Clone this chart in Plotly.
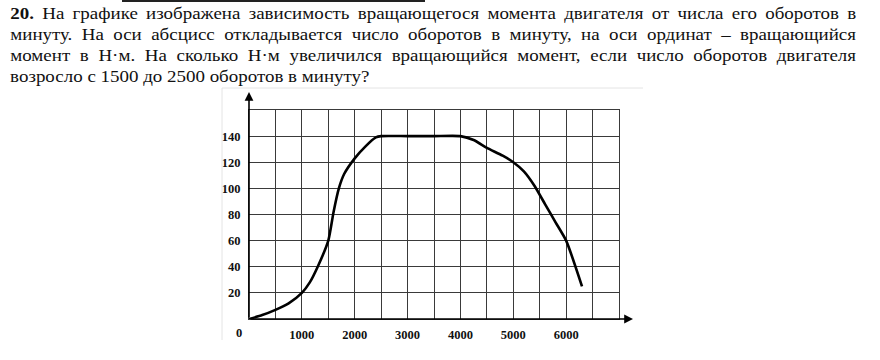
import plotly.graph_objects as go

# ---- data ----
rpm = [0, 250, 500, 750, 1000, 1150, 1300, 1500, 1600, 1700, 1800, 2000, 2200,
       2400, 2500, 3000, 3500, 4000, 4250, 4500, 4800, 5000, 5200, 5400, 5600,
       5800, 6000, 6300]
torque = [0, 3, 7, 12, 20, 28, 40, 60, 82, 100, 111, 123, 132,
          139, 140, 140, 140, 140, 137, 131, 125, 120, 113, 102, 88,
          74, 60, 25]

x_ticks = list(range(0, 7001, 500))
x_ticktext = [str(v) if (v % 1000 == 0 and 0 < v < 7000) else "" for v in x_ticks]
y_ticks = list(range(0, 161, 20))
y_ticktext = [str(v) if 0 < v < 160 else "" for v in y_ticks]

title_lines = [
    "<b>20.</b> На графике изображена зависимость вращающегося момента двигателя от числа его оборотов в",
    "минуту. На оси абсцисс откладывается число оборотов в минуту, на оси ординат – вращающийся",
    "момент в Н·м. На сколько Н·м увеличился вращающийся момент, если число оборотов двигателя",
    "возросло с 1500 до 2500 оборотов в минуту?",
]

# ---- layout geometry (pixels) ----
W, H = 880, 360
L, R, T, B = 249, 261, 110, 41
PW, PH = W - L - R, H - T - B


def px(xp, yp):
    return (xp - L) / PW, (H - B - yp) / PH


fig = go.Figure()
fig.add_trace(go.Scatter(
    x=rpm, y=torque, mode="lines",
    line=dict(color="black", width=2.6, shape="spline", smoothing=0.6),
    hoverinfo="skip", showlegend=False, cliponaxis=False,
))

tick_font = dict(family="Liberation Serif", size=12.5, color="#111", weight="bold")

fig.update_xaxes(
    range=[0, 7000], tickvals=x_ticks, ticktext=x_ticktext,
    showgrid=True, gridcolor="#3a3a3a", gridwidth=1, zeroline=False,
    showline=True, mirror=True, linecolor="#3a3a3a", linewidth=1,
    ticks="", tickfont=tick_font, ticklabelstandoff=4,
    fixedrange=True,
)
fig.update_yaxes(
    range=[0, 160], tickvals=y_ticks, ticktext=y_ticktext,
    showgrid=True, gridcolor="#3a3a3a", gridwidth=1, zeroline=False,
    showline=True, mirror=True, linecolor="#3a3a3a", linewidth=1,
    ticks="", tickfont=tick_font, ticklabelstandoff=5,
    fixedrange=True,
)

annotations = []
# axes with arrows
xa, ya = px(633, 319)
annotations.append(dict(x=xa, y=ya, xref="paper", yref="paper", text="",
                        showarrow=True, ax=-(633 - L), ay=0, arrowhead=2,
                        arrowsize=1.1, arrowwidth=1.6, arrowcolor="black", standoff=0))
xa, ya = px(249, 92)
annotations.append(dict(x=xa, y=ya, xref="paper", yref="paper", text="",
                        showarrow=True, ax=0, ay=(319 - 92), arrowhead=2,
                        arrowsize=1.1, arrowwidth=1.6, arrowcolor="black", standoff=0))
# origin label
xa, ya = px(239, 333)
annotations.append(dict(x=xa, y=ya, xref="paper", yref="paper", text="0",
                        showarrow=False, xanchor="center", yanchor="middle",
                        font=dict(family="Liberation Serif", size=12.5, color="#111",
                                  weight="bold")))
# problem text
for i, line in enumerate(title_lines):
    xa, ya = px(8, 14 + 21 * i)
    annotations.append(dict(x=xa, y=ya, xref="paper", yref="paper", text=line,
                            showarrow=False, xanchor="left", yanchor="middle",
                            font=dict(family="Liberation Serif", size=16, color="#111")))

shapes = [
    dict(type="line", xref="paper", yref="paper",
         x0=px(122, 1)[0], y0=px(122, 1)[1], x1=px(425, 1)[0], y1=px(425, 1)[1],
         line=dict(color="#222", width=2)),
    dict(type="line", xref="paper", yref="paper",
         x0=px(222, 88)[0], y0=px(222, 88)[1], x1=px(643, 88)[0], y1=px(643, 88)[1],
         line=dict(color="#e4e4e4", width=1)),
    dict(type="line", xref="paper", yref="paper",
         x0=px(222, 88)[0], y0=px(222, 88)[1], x1=px(222, 340)[0], y1=px(222, 340)[1],
         line=dict(color="#e4e4e4", width=1)),
]

fig.update_layout(
    width=W, height=H, margin=dict(l=L, r=R, t=T, b=B, pad=0),
    paper_bgcolor="white", plot_bgcolor="white",
    annotations=annotations, shapes=shapes, showlegend=False,
)

post = """
document.documentElement.style.margin = '0';
document.body.style.margin = '0';
document.body.style.overflow = 'hidden';
var gd = document.getElementById('{plot_id}');
var SX = 1.185, TARGET = 847;
function fixText() {
  var els = gd.querySelectorAll('text.annotation-text');
  els.forEach(function(el) {
    var t = el.textContent;
    var just = (t.indexOf('20.') === 0 || t.indexOf('минуту. На') === 0 || t.indexOf('момент в') === 0);
    var last = (t.indexOf('возросло') === 0);
    if (!just && !last) return;
    if (el.dataset.orig === undefined) { el.dataset.orig = el.getAttribute('transform') || ''; }
    el.setAttribute('transform', el.dataset.orig);
    el.style.wordSpacing = '0px';
    var bb = el.getBBox();
    var left = bb.x;
    if (just) {
      var n = (t.match(/ /g) || []).length;
      var ws = (TARGET / SX - bb.width) / n;
      el.style.wordSpacing = ws + 'px';
      bb = el.getBBox();
    }
    var dx = left - bb.x;
    el.setAttribute('transform', el.dataset.orig + ' translate(' + left + ',0) scale(' + SX +
      ',1) translate(' + (-left) + ',0) translate(' + dx + ',0)');
  });
}
fixText();
setTimeout(fixText, 30);
setTimeout(fixText, 300);
"""

fig.write_html("out.html", config={"displayModeBar": False, "staticPlot": True},
               post_script=post)
